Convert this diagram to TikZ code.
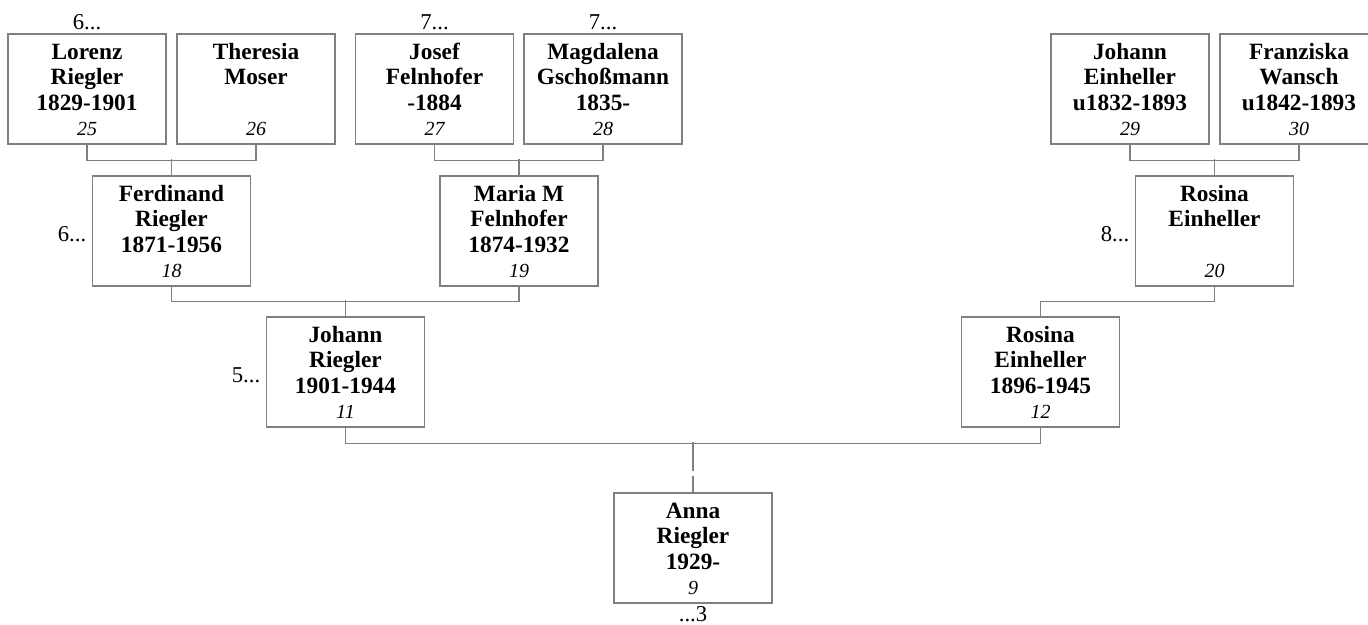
\documentclass[tikz,border=0pt]{standalone}
\usepackage{fontspec}
\setmainfont{Liberation Serif}
\usepackage{tikz}
\usetikzlibrary{positioning}
\definecolor{linegray}{RGB}{128,128,128}

\begin{document}
\begin{tikzpicture}[x=0.75pt,y=0.75pt,yscale=-1,xscale=1,
  person/.style={draw=linegray, line width=1.1pt, inner sep=0pt,
    font=\bfseries\fontsize{17.5}{19.2}\selectfont,
    execute at begin node={\begin{minipage}[c][82.5pt][t]{118.5pt}\centering\rule{0pt}{18.75pt}},
    execute at end node={\end{minipage}}},
  link/.style={draw=linegray, line width=0.8pt},
  more/.style={inner sep=0.5pt, font=\fontsize{17}{19}\selectfont}]
\useasboundingbox (0,0) rectangle (1368,625);

% Generation 4
\node[person] (p25) at (87,89) {Lorenz\\Riegler\\1829-1901\\{\mdseries\itshape\fontsize{15}{19.2}\selectfont 25}};
\node[person] (p26) at (256,89) {Theresia\\Moser\\\mbox{}\\{\mdseries\itshape\fontsize{15}{19.2}\selectfont 26}};
\node[person] (p27) at (434.5,89) {Josef\\Felnhofer\\-1884\\{\mdseries\itshape\fontsize{15}{19.2}\selectfont 27}};
\node[person] (p28) at (603,89) {Magdalena\\Gschoßmann\\1835-\\{\mdseries\itshape\fontsize{15}{19.2}\selectfont 28}};
\node[person] (p29) at (1130,89) {Johann\\Einheller\\u1832-1893\\{\mdseries\itshape\fontsize{15}{19.2}\selectfont 29}};
\node[person] (p30) at (1299,89) {Franziska\\Wansch\\u1842-1893\\{\mdseries\itshape\fontsize{15}{19.2}\selectfont 30}};

% Generation 3
\node[person] (p18) at (171.5,231) {Ferdinand\\Riegler\\1871-1956\\{\mdseries\itshape\fontsize{15}{19.2}\selectfont 18}};
\node[person] (p19) at (519,231) {Maria M\\Felnhofer\\1874-1932\\{\mdseries\itshape\fontsize{15}{19.2}\selectfont 19}};
\node[person] (p20) at (1214.5,231) {Rosina\\Einheller\\\mbox{}\\{\mdseries\itshape\fontsize{15}{19.2}\selectfont 20}};

% Generation 2
\node[person] (p11) at (345.5,372) {Johann\\Riegler\\1901-1944\\{\mdseries\itshape\fontsize{15}{19.2}\selectfont 11}};
\node[person] (p12) at (1040.5,372) {Rosina\\Einheller\\1896-1945\\{\mdseries\itshape\fontsize{15}{19.2}\selectfont 12}};

% Generation 1
\node[person] (p9) at (693,548) {Anna\\Riegler\\1929-\\{\mdseries\itshape\fontsize{15}{19.2}\selectfont 9}};

% continuation marks
\node[more, above=2pt of p25] (c25) {6...};
\node[more, above=2pt of p27] (c27) {7...};
\node[more, above=2pt of p28] (c28) {7...};
\node[more, left=3.5pt of p18, yshift=-2.25pt] (c18) {6...};
\node[more, left=3.5pt of p20, yshift=-2.25pt] (c20) {8...};
\node[more, left=3.5pt of p11, yshift=-2.25pt] (c11) {5...};
\node[more, below=1.5pt of p9] (c9) {...3};

% Connectors
\draw[link] (p25.south) -- ++(0,16) -| (p26.south);
\draw[link] (p18.north) -- ++(0,-16);
\draw[link] (p27.south) -- ++(0,16) -| (p28.south);
\draw[link] (p19.north) -- ++(0,-16);
\draw[link] (p29.south) -- ++(0,16) -| (p30.south);
\draw[link] (p20.north) -- ++(0,-16);

\draw[link] (p18.south) -- ++(0,15) -| (p19.south);
\draw[link] (p11.north) -- ++(0,-16);
\draw[link] (p20.south) -- ++(0,15) -| (p12.north);

\draw[link] (p11.south) -- ++(0,16) -| (p12.south);
\draw[link] (p9.north) -- ++(0,-16) ++(0,-5) -- ++(0,-29);

\end{tikzpicture}
\end{document}
